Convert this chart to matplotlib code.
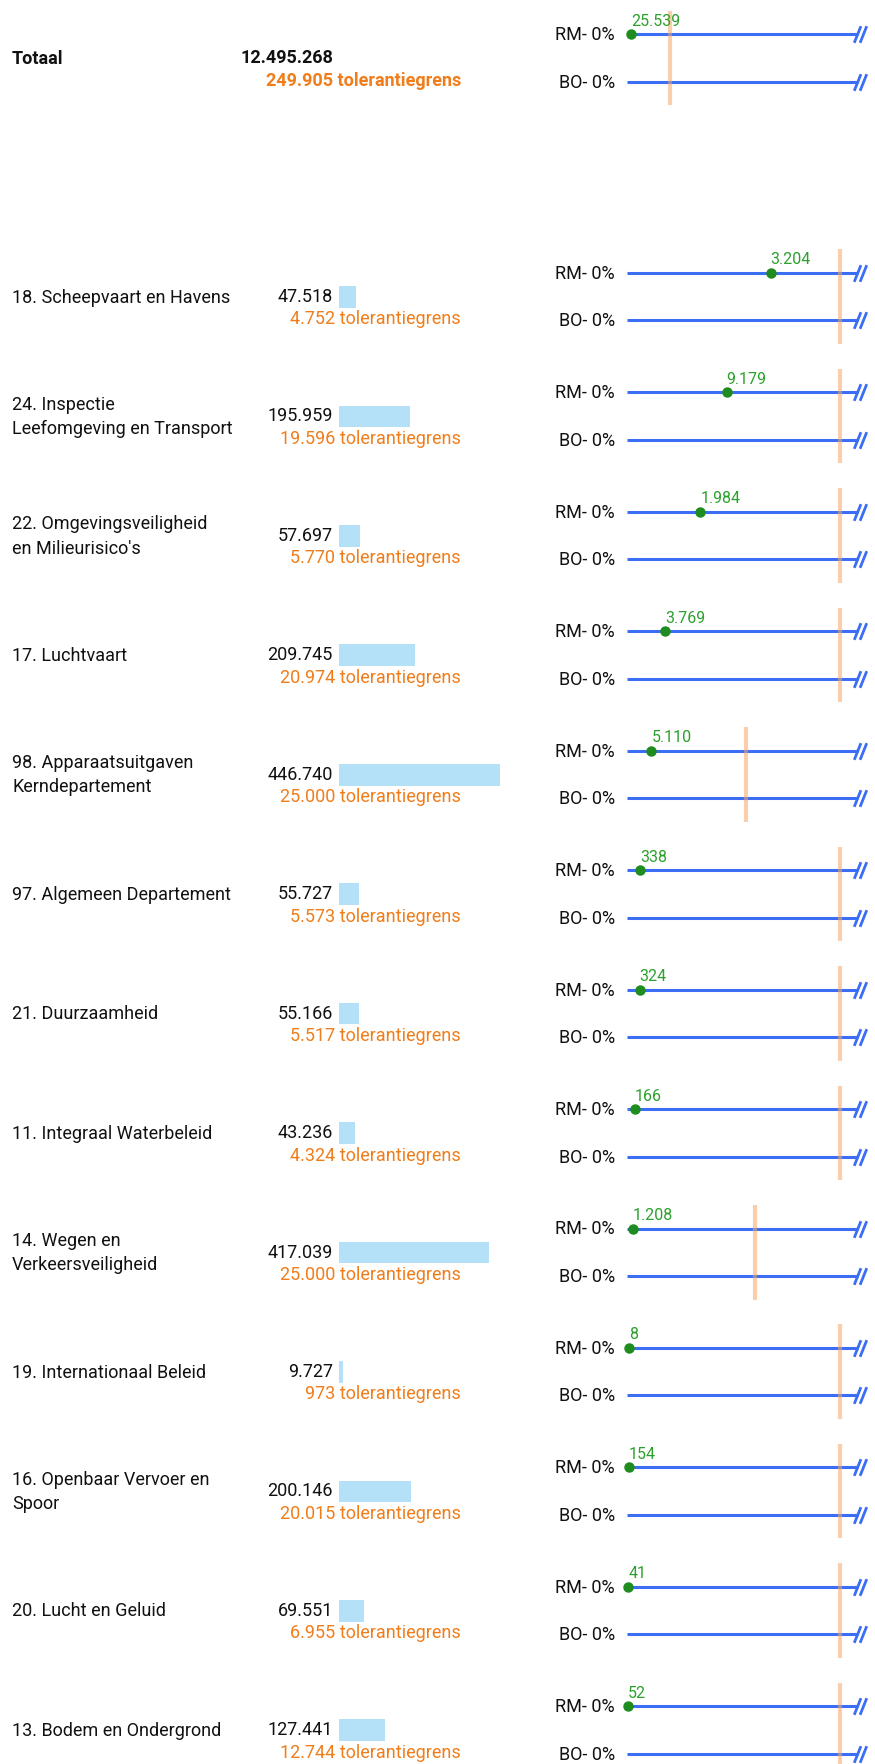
import numpy as np
import matplotlib.pyplot as plt
from matplotlib.path import Path

plt.rcParams['font.family'] = ['Roboto', 'DejaVu Sans']

# --- data ---
total_name = "Totaal"
total_value = 12495268
total_tol = 249905
total_rm = 25539

labels = [
    "18. Scheepvaart en Havens",
    "24. Inspectie\nLeefomgeving en Transport",
    "22. Omgevingsveiligheid\nen Milieurisico's",
    "17. Luchtvaart",
    "98. Apparaatsuitgaven\nKerndepartement",
    "97. Algemeen Departement",
    "21. Duurzaamheid",
    "11. Integraal Waterbeleid",
    "14. Wegen en\nVerkeersveiligheid",
    "19. Internationaal Beleid",
    "16. Openbaar Vervoer en\nSpoor",
    "20. Lucht en Geluid",
    "13. Bodem en Ondergrond",
]
values = [47518, 195959, 57697, 209745, 446740, 55727, 55166, 43236,
          417039, 9727, 200146, 69551, 127441]
tolerance = [4752, 19596, 5770, 20974, 25000, 5573, 5517, 4324,
             25000, 973, 20015, 6955, 12744]
rm_values = [3204, 9179, 1984, 3769, 5110, 338, 324, 166,
             1208, 8, 154, 41, 52]
rm_pct = ["0%"] * 13
bo_pct = ["0%"] * 13

BLUE = '#3c6ef5'
GREEN_DOT = '#1e8c1e'
GREEN_TXT = '#2ca02c'
ORANGE_TXT = '#f07d1a'
PEACH = '#f5a66a'
BAR = '#b4e0f8'
INK = '#111111'


def nl(v):
    return f"{v:,}".replace(",", ".")


W, H = 875, 1765
fig = plt.figure(figsize=(W / 100, H / 100), dpi=100)

names = [total_name] + labels
vals = np.array([total_value] + values, dtype=float)
tols = np.array([total_tol] + tolerance, dtype=float)
rms = np.array([total_rm] + rm_values, dtype=float)
rm_lab = ["0%"] + rm_pct
bo_lab = ["0%"] + bo_pct
slot = np.array([0] + list(range(2, 2 + len(labels))))
rm_y = 35 + 119.45 * slot
bo_y = rm_y + 47.5
limit = 0.1 * vals          # uncapped 10% limit = 1.0 on the line scale
XMAX = 1.085

# text layer (pixel coords)
ax_t = fig.add_axes([0, 0, 1, 1])
ax_t.set_xlim(0, W)
ax_t.set_ylim(H, 0)
ax_t.axis('off')

# bars
ax_b = fig.add_axes([339 / W, 0, 161 / W, 1])
ax_b.set_xlim(0, max(values))
ax_b.set_ylim(H, 0)
ax_b.axis('off')
ax_b.barh(rm_y[1:] + 24, values, height=21.7, color=BAR)

# RM / BO lines
ax_l = fig.add_axes([627 / W, 0, 231 / W, 1])
ax_l.set_xlim(0, XMAX)
ax_l.set_ylim(H, 0)
ax_l.axis('off')

brk = Path([(-0.75, -1), (0.05, 1), (-0.05, -1), (0.75, 1)],
           [Path.MOVETO, Path.LINETO, Path.MOVETO, Path.LINETO])

for i, name in enumerate(names):
    bold = 'bold' if i == 0 else 'normal'
    ry, by = rm_y[i], bo_y[i]
    ax_t.text(12, ry + 23.6, name, ha='left', va='center', fontsize=13,
              color=INK, fontweight=bold, linespacing=1.45)
    ax_t.text(333, ry + 23, nl(int(vals[i])), ha='right', va='center',
              fontsize=13, color=INK, fontweight=bold)
    ax_t.text(461, ry + 45.5, nl(int(tols[i])) + " tolerantiegrens",
              ha='right', va='center', fontsize=13, color=ORANGE_TXT,
              fontweight=bold)

    for y, tag in ((ry, "RM- " + rm_lab[i]), (by, "BO- " + bo_lab[i])):
        ax_l.plot([0, XMAX], [y, y], color=BLUE, lw=2.2,
                  solid_capstyle='butt', clip_on=False, zorder=2)
        ax_l.plot([XMAX * 1.01], [y], marker=brk, ms=12, mew=2.0,
                  mfc='none', mec=BLUE, linestyle='none', clip_on=False,
                  zorder=3)
        ax_l.annotate(tag, xy=(0, y), xytext=(-12, 0),
                      textcoords='offset pixels', ha='right', va='center',
                      fontsize=13, color=INK)

    x_tol = tols[i] / limit[i]
    ax_l.plot([x_tol, x_tol], [ry - 23.5, by + 23.5], color=PEACH,
              lw=3, alpha=0.55, solid_capstyle='butt', zorder=4)

    x_rm = rms[i] / limit[i]
    ax_l.plot([x_rm], [ry], 'o', color=GREEN_DOT, ms=6.5, zorder=5,
              clip_on=False)
    ax_l.annotate(nl(int(rms[i])), xy=(x_rm, ry), xytext=(0, 14),
                  textcoords='offset pixels', ha='left', va='center',
                  fontsize=11.5, color=GREEN_TXT, zorder=6)

fig.savefig('out.png', dpi=100, facecolor='white')
